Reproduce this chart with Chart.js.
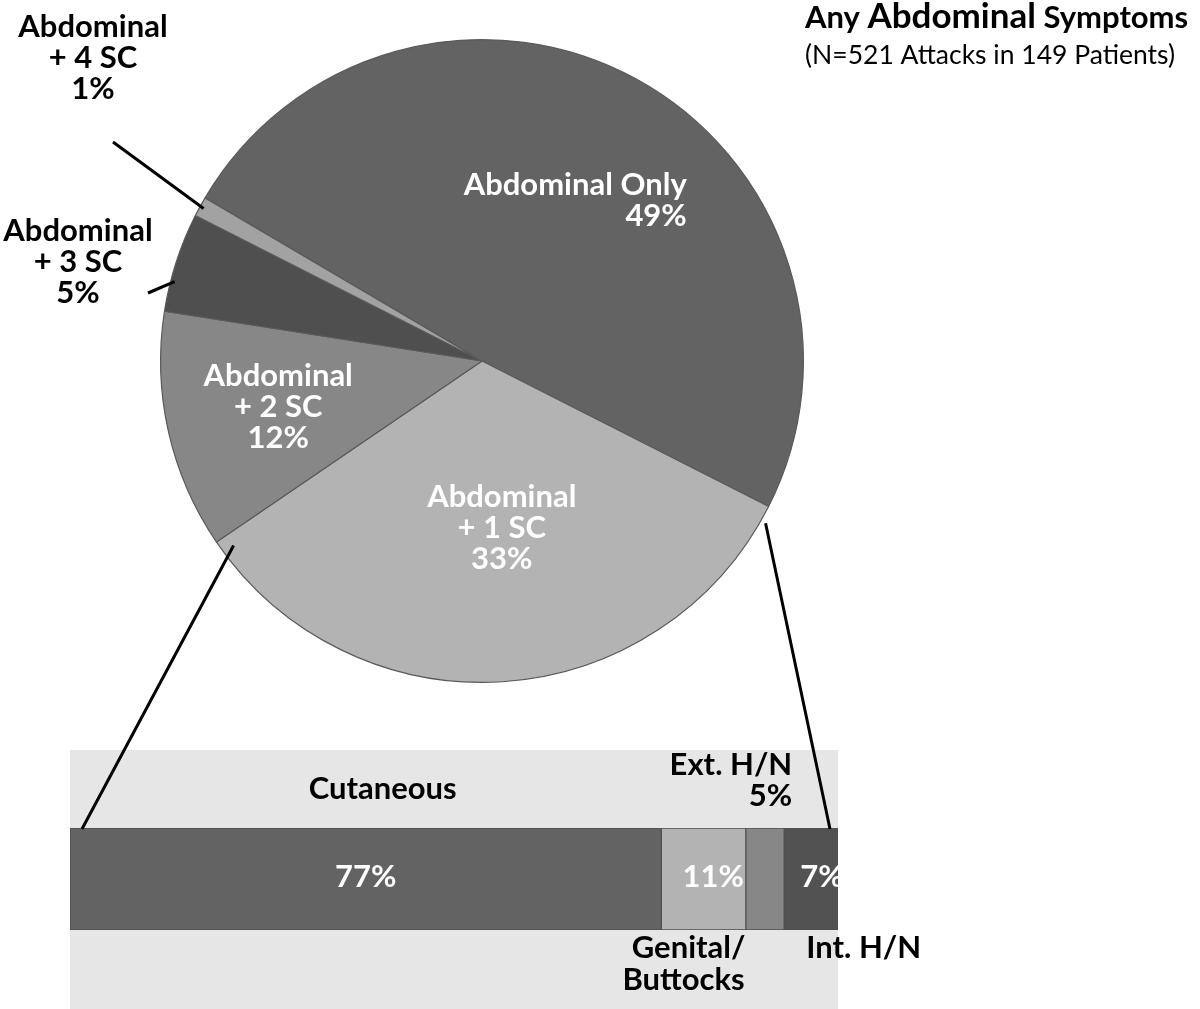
<!DOCTYPE html>
<html>
<head>
<meta charset="utf-8">
<script src="https://cdn.jsdelivr.net/npm/chart.js@4.4.1/dist/chart.umd.min.js"></script>
<style>
  html, body { margin: 0; padding: 0; background: #ffffff; }
  #wrap { position: relative; width: 1200px; height: 1009px; overflow: hidden; }
  canvas { position: absolute; left: 0; top: 0; }
</style>
</head>
<body>
<div id="wrap">
  <canvas id="pie" width="1200" height="1009"></canvas>
  <canvas id="bar" width="1200" height="1009"></canvas>
</div>
<script>
// ---- Data ----
const pieLabels = ['Abdominal Only', 'Abdominal + 1 SC', 'Abdominal + 2 SC', 'Abdominal + 3 SC', 'Abdominal + 4 SC'];
const pieTextLines = [['Abdominal Only', '49%'], ['Abdominal', '+ 1 SC', '33%'], ['Abdominal', '+ 2 SC', '12%'], ['Abdominal', '+ 3 SC', '5%'], ['Abdominal', '+ 4 SC', '1%']];
const pieValues = [49, 33, 12, 5, 1];
const pieColors = ['#636363', '#b3b3b3', '#878787', '#4f4f4f', '#a2a2a2'];

const barLabels = ['Cutaneous', 'Genital/Buttocks', 'Ext. H/N', 'Int. H/N'];
const barValues = [77, 11, 5, 7];
const barColors = ['#636363', '#b3b3b3', '#878787', '#525252'];

const titleLine1 = ['Any ', 'Abdominal', ' Symptoms'];
const titleLine2 = '(N=521 Attacks in 149 Patients)';

const FONT = 'Lato, "Open Sans", sans-serif';
const LBL = 31;
function bold(px) { return 'bold ' + px + 'px ' + FONT; }

// ---- Pie chart ----
const pieLabelPlugin = {
  id: 'pieLabels',
  afterDraw(chart) {
    const ctx = chart.ctx;
    const meta = chart.getDatasetMeta(0);
    const a0 = meta.data[0];
    const cx = a0.x, cy = a0.y, R = a0.outerRadius;
    const lh = 31;
    ctx.save();
    ctx.textBaseline = 'middle';
    // inside labels
    const inside = [
      { i: 0, rf: 0.575, align: 'right', dx: 116, dy: 2 },
      { i: 1, rf: 0.52, align: 'center', dx: 9, dy: 0 },
      { i: 2, rf: 0.65, align: 'center', dx: 0, dy: 0 }
    ];
    inside.forEach(o => {
      const arc = meta.data[o.i];
      const mid = (arc.startAngle + arc.endAngle) / 2;
      const x = cx + Math.cos(mid) * R * o.rf + o.dx;
      const y = cy + Math.sin(mid) * R * o.rf + o.dy;
      const lines = pieTextLines[o.i];
      ctx.fillStyle = '#ffffff';
      ctx.font = bold(LBL);
      ctx.textAlign = o.align;
      const y0 = y - (lines.length - 1) * lh / 2;
      lines.forEach((t, k) => ctx.fillText(t, x, y0 + k * lh));
    });
    // outside labels with leader lines
    const outside = [
      { i: 3, tx: -404, ty: -99, lx: -334, ly: -68, ang: -0.06 },
      { i: 4, tx: -389, ty: -303, lx: -369, ly: -219, ang: 0 }
    ];
    outside.forEach(o => {
      const arc = meta.data[o.i];
      const mid = (arc.startAngle + arc.endAngle) / 2 + o.ang;
      const sx = cx + Math.cos(mid) * (R - 4);
      const sy = cy + Math.sin(mid) * (R - 4);
      ctx.strokeStyle = '#000000';
      ctx.lineWidth = 3;
      ctx.beginPath();
      ctx.moveTo(sx, sy);
      ctx.lineTo(cx + o.lx, cy + o.ly);
      ctx.stroke();
      const lines = pieTextLines[o.i];
      ctx.fillStyle = '#000000';
      ctx.font = bold(LBL);
      ctx.textAlign = 'center';
      const y0 = cy + o.ty - (lines.length - 1) * lh / 2;
      lines.forEach((t, k) => ctx.fillText(t, cx + o.tx, y0 + k * lh));
    });
    // title
    ctx.textAlign = 'left';
    ctx.textBaseline = 'alphabetic';
    ctx.fillStyle = '#000000';
    let x = 805;
    const sizes = [31, 35, 31];
    titleLine1.forEach((t, k) => {
      ctx.font = bold(sizes[k]);
      ctx.fillText(t, x, 28);
      x += ctx.measureText(t).width;
    });
    ctx.font = '26.5px ' + FONT;
    ctx.fillText(titleLine2, 805, 64);
    ctx.restore();
  }
};

const pieChart = new Chart(document.getElementById('pie'), {
  type: 'pie',
  data: {
    labels: pieLabels,
    datasets: [{
      data: pieValues,
      backgroundColor: pieColors,
      borderColor: '#5a5a5a',
      borderWidth: 1.2
    }]
  },
  options: {
    responsive: false,
    animation: false,
    rotation: 300.5,
    layout: { padding: { left: 160, top: 39, right: 396, bottom: 326 } },
    plugins: { legend: { display: false }, tooltip: { enabled: false }, title: { display: false } }
  },
  plugins: [pieLabelPlugin]
});

// ---- Bar chart ----
const barPlugin = {
  id: 'barDeco',
  beforeDraw(chart) {
    const ctx = chart.ctx;
    const a = chart.chartArea;
    ctx.save();
    ctx.fillStyle = '#e6e6e6';
    ctx.fillRect(a.left, a.top - 78, a.right - a.left, a.bottom + 79 - (a.top - 78));
    ctx.restore();
  },
  afterDraw(chart) {
    const ctx = chart.ctx;
    const a = chart.chartArea;
    const bars = chart.data.datasets.map((d, i) => chart.getDatasetMeta(i).data[0]);
    ctx.save();
    ctx.textBaseline = 'middle';
    ctx.font = bold(LBL);
    const ym = (a.top + a.bottom) / 2 - 2;
    // values inside
    ctx.fillStyle = '#ffffff';
    ctx.textAlign = 'center';
    ctx.fillText(barValues[0] + '%', (bars[0].base + bars[0].x) / 2, ym);
    ctx.textAlign = 'right';
    ctx.fillText(barValues[1] + '%', bars[1].x - 2, ym);
    ctx.textAlign = 'left';
    ctx.fillText(barValues[3] + '%', bars[3].base + 16, ym);
    // outside labels
    ctx.fillStyle = '#000000';
    ctx.textAlign = 'center';
    ctx.fillText(barLabels[0], (bars[0].base + bars[0].x) / 2 + 17, a.top - 39);
    ctx.textAlign = 'right';
    ctx.fillText('Ext. H/N', bars[2].x + 8, a.top - 63);
    ctx.fillText(barValues[2] + '%', bars[2].x + 8, a.top - 32);
    ctx.textAlign = 'center';
    const gb = barLabels[1].split('/');
    ctx.fillText(gb[0] + '/', (bars[1].base + bars[1].x) / 2 - 15, a.bottom + 18);
    ctx.fillText(gb[1], (bars[1].base + bars[1].x) / 2 - 20, a.bottom + 50);
    ctx.textAlign = 'left';
    ctx.fillText(barLabels[3], bars[3].base + 22, a.bottom + 18);
    // connector lines from pie slice (Abdominal + 1 SC) to bar
    const pm = pieChart.getDatasetMeta(0);
    const arc = pm.data[1];
    const R = arc.outerRadius;
    const s1 = arc.endAngle - 0.04, s2 = arc.startAngle + 0.005;
    ctx.strokeStyle = '#000000';
    ctx.lineWidth = 3;
    ctx.beginPath();
    ctx.moveTo(arc.x + Math.cos(s1) * (R - 12), arc.y + Math.sin(s1) * (R - 12));
    ctx.lineTo(a.left + 12, a.top + 1);
    ctx.moveTo(arc.x + Math.cos(s2) * (R + 3) - 5, arc.y + Math.sin(s2) * (R + 3) + 14);
    ctx.lineTo(a.right - 8, a.top + 1);
    ctx.stroke();
    ctx.restore();
  }
};

new Chart(document.getElementById('bar'), {
  type: 'bar',
  data: {
    labels: [''],
    datasets: barLabels.map((l, i) => ({
      label: l,
      data: [barValues[i]],
      backgroundColor: barColors[i],
      borderColor: '#505050',
      borderWidth: 1,
      borderSkipped: false,
      categoryPercentage: 1,
      barPercentage: 1
    }))
  },
  options: {
    indexAxis: 'y',
    responsive: false,
    animation: false,
    layout: { padding: { left: 70, top: 828, right: 362, bottom: 79 } },
    scales: {
      x: { stacked: true, min: 0, max: 100, display: false },
      y: { stacked: true, display: false }
    },
    plugins: { legend: { display: false }, tooltip: { enabled: false }, title: { display: false } }
  },
  plugins: [barPlugin]
});
</script>
</body>
</html>
